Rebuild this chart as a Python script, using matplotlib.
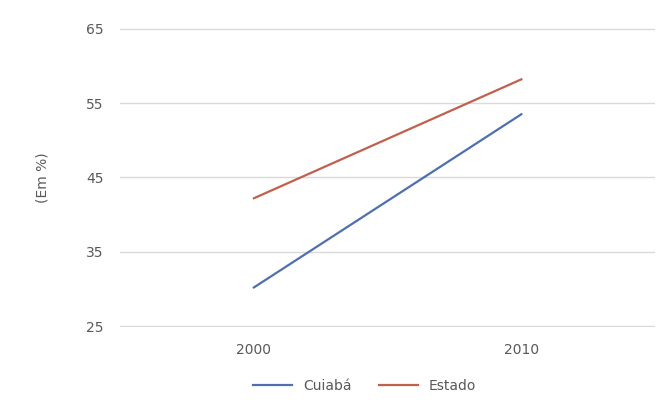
import matplotlib
matplotlib.use('Agg')
import matplotlib.pyplot as plt

anos = ['2000', '2010']
cuiaba = [30.2, 53.5]
estado = [42.2, 58.2]
yticks = [25, 35, 45, 55, 65]

fig = plt.figure(figsize=(6.57, 4.01), dpi=100)
ax = fig.add_axes([0.183, 0.185, 0.814, 0.745])

x = range(len(anos))
ax.plot(x, cuiaba, color='#4F6FAE', lw=1.6, label='Cuiabá')
ax.plot(x, estado, color='#C0604D', lw=1.6, label='Estado')

ax.set_xlim(-0.5, 1.5)
ax.set_ylim(24.9, 65.1)
ax.set_yticks(yticks)
ax.set_xticks(list(x))
ax.set_xticklabels(anos)
ax.yaxis.grid(True, color='#d9d9d9', lw=1)
ax.set_axisbelow(True)
for s in ax.spines.values():
    s.set_visible(False)
ax.tick_params(length=0, colors='#595959', labelsize=10, pad=12)
ax.set_ylabel('(Em %)', color='#595959', fontsize=10, labelpad=26)

fig.legend(loc='lower center', bbox_to_anchor=(0.555, -0.01), ncol=2, frameon=False,
           fontsize=10, labelcolor='#595959', handlelength=2.8)

fig.savefig('out.png', dpi=100)
